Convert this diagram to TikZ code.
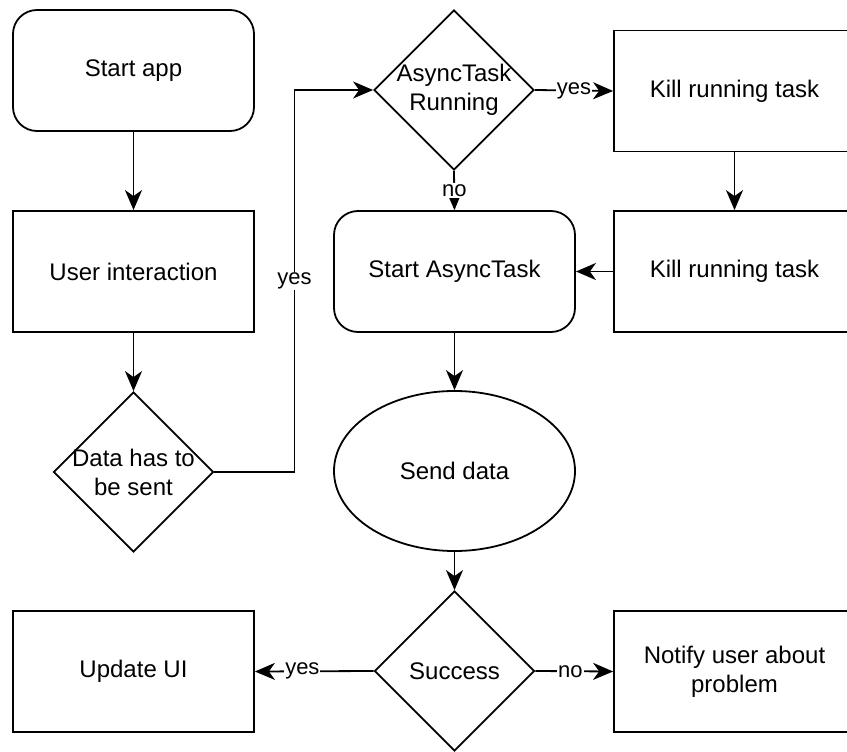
\documentclass[tikz,border=0pt]{standalone}
\usepackage{fontspec}
\setmainfont{Liberation Sans}
\usetikzlibrary{shapes.geometric,arrows.meta}
\begin{document}
\begin{tikzpicture}[x=1pt,y=-1pt, line width=1.8pt,
 box/.style={draw, minimum width=241pt, minimum height=121pt, inner sep=0pt, font=\fontsize{24}{29}\selectfont, align=center},
 rbox/.style={box, rounded corners=24pt},
 dia/.style={draw, diamond, minimum width=160pt, minimum height=160pt, inner sep=0pt},
 elli/.style={draw, ellipse, minimum width=241pt, minimum height=160pt, inner sep=0pt},
 txt/.style={font=\fontsize{24}{29}\selectfont, align=center},
 lbl/.style={fill=white, font=\fontsize{22}{26}\selectfont, inner sep=1pt},
 arr/.style={-{Stealth[length=20pt,width=17pt,inset=6pt]}}
]
\useasboundingbox (0,0) rectangle (847,752);
% nodes
\node[rbox] (start) at (133.5,70.5) {};
\node[txt] at (start) {Start app};
\node[box] (user) at (133.5,271.5) {User interaction};
\node[dia] (data) at (133.5,472) {};
\node[txt] at (data) {Data has to\\be sent};
\node[dia] (async) at (454,90) {};
\node[txt] at (async) {AsyncTask\\Running};
\node[box] (kill1) at (734.5,91) {Kill running task};
\node[box] (kill2) at (734.5,271.5) {Kill running task};
\node[rbox] (startat) at (454.5,271.5) {};
\node[txt] at (startat) {Start AsyncTask};
\node[elli] (send) at (454.5,471) {};
\node[txt] at (send) {Send data};
\node[dia] (succ) at (454.5,671) {};
\node[txt] at (succ) {Success};
\node[box] (update) at (133.5,671.5) {Update UI};
\node[box] (notify) at (734.5,671.5) {Notify user about\\problem};
% connectors
\draw[arr] (start) -- (user);
\draw[arr] (user) -- (data);
\draw[arr] (data.east) -- ++(80,0) coordinate (bend) |- (async.west) node[lbl, pos=0.25] {yes};
\draw[arr] (async.east) -- (kill1.west) node[lbl, midway] {yes};
\draw[arr] (async.south) -- (startat.north) node[lbl, midway] {no};
\draw[arr] (kill1) -- (kill2);
\draw[arr] (kill2.west) -- (startat.east);
\draw[arr] (startat) -- (send);
\draw[arr] (send) -- (succ);
\draw[arr] (succ.west) -- (update.east) node[lbl, pos=0.6] {yes};
\draw[arr] (succ.east) -- (notify.west) node[lbl, pos=0.45] {no};
\end{tikzpicture}
\end{document}
